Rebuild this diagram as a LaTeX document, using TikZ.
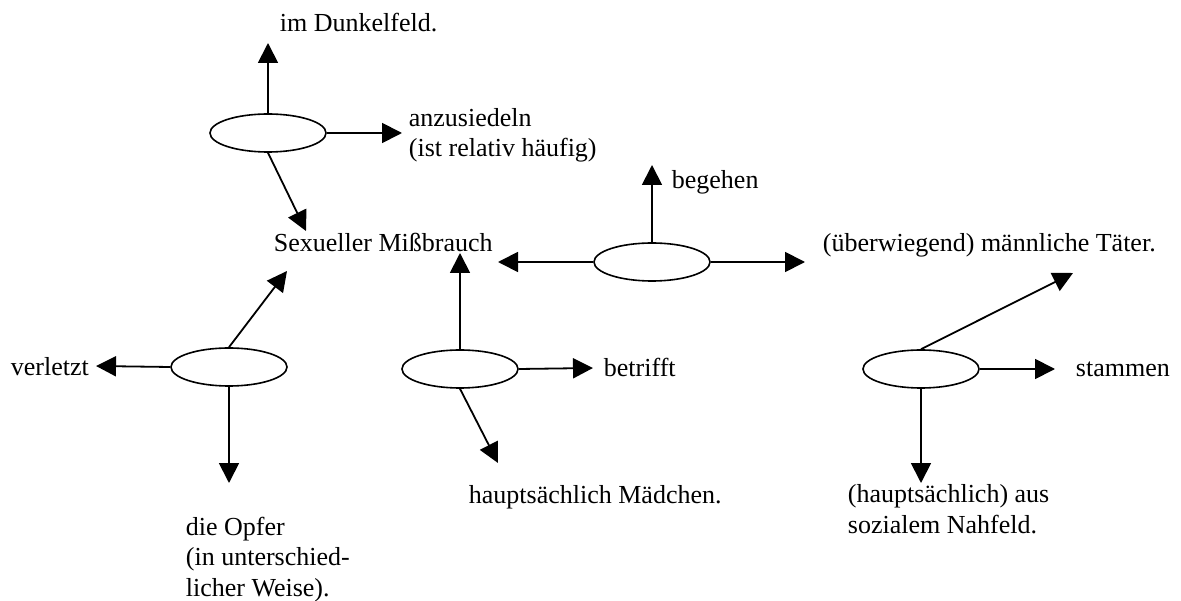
\documentclass[tikz,border=0pt]{standalone}
\usepackage{fontspec}
\setmainfont{Liberation Serif}
\usetikzlibrary{shapes.geometric,arrows.meta}

\begin{document}
\begin{tikzpicture}[x=1pt,y=-1pt,line width=1.8pt,
        >={Triangle[length=20pt,width=20pt]},
        rel/.style={ellipse,draw,line width=1.6pt,minimum width=116pt,minimum height=38pt,inner sep=0pt},
        lbl/.style={anchor=base west,inner sep=0pt,align=left,font=\fontsize{26}{30.5}\selectfont}]
            \useasboundingbox (0,0) rectangle (1181,601);
            % relations
            \node[rel] (r_1) at (268,133) {};
            \node[rel] (r_2) at (229,367) {};
            \node[rel] (r_3) at (460,369) {};
            \node[rel] (r_4) at (652,262) {};
            \node[rel] (r_5) at (921,369) {};
            % texts (multi-line ones sit on their last line)
            \node[lbl] (dunkel)     at (279,32)  {im Dunkelfeld.};
            \node[lbl] (ansiedeln)  at (408,157) {anzusiedeln\\(ist relativ häufig)};
            \node[lbl] (missbrauch) at (273,252) {Sexueller Mißbrauch};
            \node[lbl] (begehen)    at (671,189) {begehen};
            \node[lbl] (taeter)     at (822,252) {(überwiegend) männliche Täter.};
            \node[lbl] (verletzt)   at (10,376)  {verletzt};
            \node[lbl] (betrifft)   at (603,377) {betrifft};
            \node[lbl] (stammen)    at (1075,377) {stammen};
            \node[lbl] (opfer)      at (185,596) {die Opfer\\(in unterschied-\\licher Weise).};
            \node[lbl] (maedchen)   at (468,503) {hauptsächlich Mädchen.};
            \node[lbl] (nahfeld)    at (847,533) {(hauptsächlich) aus\\sozialem Nahfeld.};
            % arrow tips
            \coordinate (to_dunkel)    at (268,43);
            \coordinate (to_ansiedeln) at (402,133);
            \coordinate (to_sexuell_a) at (306,231);
            \coordinate (to_sexuell_b) at (287,271);
            \coordinate (to_sexuell_c) at (460,253);
            \coordinate (to_sexuell_d) at (498,262);
            \coordinate (to_verletzt)  at (96,366);
            \coordinate (to_opfer)     at (229,483);
            \coordinate (to_betrifft)  at (593,368);
            \coordinate (to_maedchen)  at (498,463);
            \coordinate (to_begehen)   at (652,165);
            \coordinate (to_taeter_a)  at (805,262);
            \coordinate (to_taeter_b)  at (1073,273);
            \coordinate (to_stammen)   at (1055,369);
            \coordinate (to_nahfeld)   at (921,483);
            \path[->]
                (r_1.north) edge (to_dunkel)
                (r_1.east)  edge (to_ansiedeln)
                (r_1.south) edge (to_sexuell_a)
                (r_2.north) edge (to_sexuell_b)
                (r_2.west)  edge (to_verletzt)
                (r_2.south) edge (to_opfer)
                (r_3.north) edge (to_sexuell_c)
                (r_3.east)  edge (to_betrifft)
                (r_3.south) edge (to_maedchen)
                (r_4.north) edge (to_begehen)
                (r_4.west)  edge (to_sexuell_d)
                (r_4.east)  edge (to_taeter_a)
                (r_5.north) edge (to_taeter_b)
                (r_5.east)  edge (to_stammen)
                (r_5.south) edge (to_nahfeld);
        \end{tikzpicture}
\end{document}
